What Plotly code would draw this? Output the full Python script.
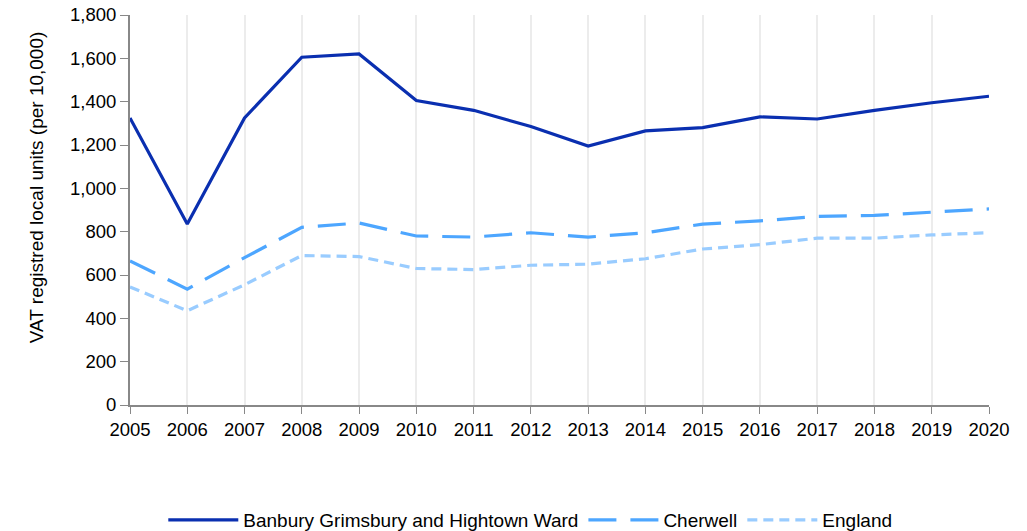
import plotly.graph_objects as go

years = list(range(2005, 2021))
banbury = [1325, 835, 1325, 1605, 1620, 1405, 1360, 1285, 1195, 1265, 1280, 1330, 1320, 1360, 1395, 1425]
cherwell = [665, 535, 680, 820, 840, 780, 775, 795, 775, 795, 835, 850, 870, 875, 890, 905]
england = [545, 435, 555, 690, 685, 630, 625, 645, 650, 675, 720, 740, 770, 770, 785, 795]
y_title = 'VAT registred local units (per 10,000)'

fig = go.Figure()
fig.add_trace(go.Scatter(x=years, y=banbury, mode='lines', name='Banbury Grimsbury and Hightown Ward',
                         line=dict(color='#0a2fb0', width=3.2)))
fig.add_trace(go.Scatter(x=years, y=cherwell, mode='lines', name='Cherwell',
                         line=dict(color='#4da6ff', width=3.2, dash='28px,14px')))
fig.add_trace(go.Scatter(x=years, y=england, mode='lines', name='England',
                         line=dict(color='#99ccff', width=3.2, dash='10px,6px')))

fig.update_layout(
    width=1027, height=531,
    margin=dict(l=130, r=38, t=15, b=126, autoexpand=False),
    paper_bgcolor='white', plot_bgcolor='white',
    font=dict(family='Liberation Sans, Arial', size=18.5, color='#000000'),
    legend=dict(orientation='h', x=0.466, xanchor='center', y=-0.295, yanchor='middle',
                font=dict(size=19), itemwidth=70),
    xaxis=dict(range=[2005, 2020], tickmode='linear', dtick=1, showgrid=True,
               gridcolor='#ececec', gridwidth=2, ticks='outside', ticklen=7,
               tickcolor='#888888', showline=True, linecolor='#888888', linewidth=2,
               zeroline=False, automargin=False),
    yaxis=dict(range=[0, 1800], dtick=200, tickformat=',', showgrid=False,
               ticks='outside', ticklen=8, tickcolor='#888888', showline=True,
               linecolor='#888888', linewidth=2, zeroline=False, automargin=False),
)

# y title sits a bit above the axis middle in the original
fig.add_annotation(text=y_title, textangle=-90, xref='paper', yref='paper',
                   x=-0.108, y=0.559, xanchor='center', yanchor='middle',
                   showarrow=False, font=dict(size=19))

# drop the default body margin so the figure lines up with the window
fig.write_html("out.html", config={'displayModeBar': False},
               post_script="document.body.style.margin='0px';")
